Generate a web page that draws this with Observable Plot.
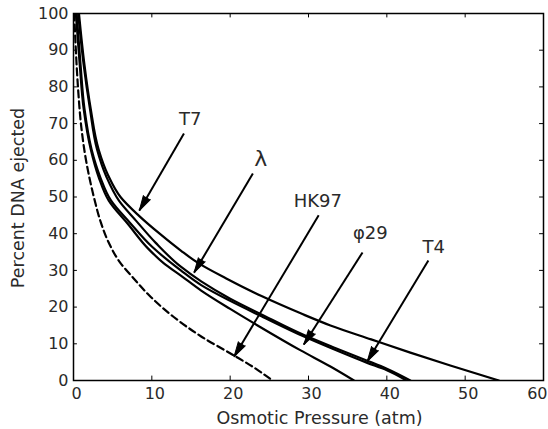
<!DOCTYPE html>
<html>
<head>
<meta charset="utf-8">
<script src="https://cdn.jsdelivr.net/npm/d3@7"></script>
<script src="https://cdn.jsdelivr.net/npm/@observablehq/plot@0.6"></script>
<style>
  html, body { margin: 0; padding: 0; background: white; }
</style>
</head>
<body>
<div id="chart"></div>
<script>
// ---- data ----
const xTicks = [0, 10, 20, 30, 40, 50, 60];
const yTicks = [0, 10, 20, 30, 40, 50, 60, 70, 80, 90, 100];

// solid curves ([osmotic pressure, percent ejected])
const curveTop = [[0.7,100],[1.4,86],[2.2,74],[3.2,63],[4.4,56],[6,50],[8.3,45],[11,40],[13.7,35.4],[16,31.9],[19.5,27.8],[24,23],[29,18.3],[32.8,15],[38,11.2],[43,7.6],[48.1,4.1],[54.3,0]];
const curveMid1 = [[0.6,100],[1.3,86],[2.1,74],[3.0,63],[4.2,55.5],[5.8,49],[8.0,43.5],[10.5,37.5],[13.7,31],[16.3,27],[20,22.3],[24,18],[29.5,12.3],[33,9.2],[37.5,5.4],[40,3.2],[43,0]];
const curveMid2 = [[0.4,100],[0.9,86],[1.4,74],[2.3,63],[3.4,55.5],[4.8,49],[7.2,43],[10,36.5],[13.7,30],[16.3,26],[20,21.7],[24,17.5],[29.5,11.9],[33,8.7],[37.5,4.8],[40,2.8],[42.5,0]];
const curveLow = [[0.3,100],[0.8,86],[1.3,74],[2.2,63],[3.2,55.5],[4.5,49],[7.0,42.5],[9.5,36],[11.5,32],[13.7,28.6],[16.3,24.5],[20,19.5],[23.5,15],[29,8.2],[32.8,3.8],[35.8,0]];
// dashed curve
const curveDashed = [[0.1,100],[0.3,90],[0.6,79],[1.0,69],[1.6,60],[2.6,50],[3.5,43],[4.4,38],[6,32],[7.6,28],[9.9,22.7],[12.8,17.3],[16.3,12],[20.5,6.8],[23,3.6],[25.4,0]];

// annotations
const labelNames = ["T7", "λ", "HK97", "φ29", "T4"];
const labelX = [14.9, 23.9, 31.2, 37.9, 46.0];
const labelY = [71.1, 60.5, 48.8, 40.0, 36.2];
const labelSize = [18, 22, 18, 18, 18];
const tailX = [14.1, 22.9, 31.3, 36.9, 45.3];
const tailY = [67.3, 56.4, 45.0, 34.9, 32.7];
const tipX = [8.4, 15.4, 20.5, 29.4, 37.5];
const tipY = [46.3, 29.4, 6.5, 9.8, 5.2];

// ---- layout ----
const W = 548, H = 429;
const mL = 73, mR = 5, mT = 13, mB = 49;
const kx = (W - mL - mR) / 60, ky = (H - mT - mB) / 100;

const solid = [
  ...curveTop.map(([x, y]) => ({x, y, s: "top"})),
  ...curveMid1.map(([x, y]) => ({x, y, s: "mid1"})),
  ...curveMid2.map(([x, y]) => ({x, y, s: "mid2"})),
  ...curveLow.map(([x, y]) => ({x, y, s: "low"}))
];
const dashed = curveDashed.map(([x, y]) => ({x, y}));

const arrows = labelNames.map((name, i) => ({
  name, lx: labelX[i], ly: labelY[i], size: labelSize[i],
  x1: tailX[i], y1: tailY[i], x2: tipX[i], y2: tipY[i],
  rot: Math.atan2((tipX[i] - tailX[i]) * kx, (tipY[i] - tailY[i]) * ky) * 180 / Math.PI
}));

const xInner = xTicks.slice(0, -1);
const xLast = xTicks.slice(-1);
const textColor = "#2a2a2a";

const chart = Plot.plot({
  width: W, height: H,
  marginLeft: mL, marginRight: mR, marginTop: mT, marginBottom: mB,
  style: {fontFamily: "DejaVu Sans", fontSize: "16px", color: textColor, background: "white"},
  x: {domain: [0, 60], axis: null},
  y: {domain: [0, 100], ticks: yTicks, tickSize: 0, tickPadding: 5, label: null},
  marks: [
    Plot.frame({stroke: "black", strokeWidth: 1.5}),
    // inward ticks
    Plot.ruleX(xTicks, {x: d => d, y1: 0, y2: 1.2, stroke: "black"}),
    Plot.ruleX(xTicks, {x: d => d, y1: 98.8, y2: 100, stroke: "black"}),
    Plot.ruleY(yTicks, {y: d => d, x1: 0, x2: 0.5, stroke: "black"}),
    Plot.ruleY(yTicks, {y: d => d, x1: 59.5, x2: 60, stroke: "black"}),
    // x tick labels
    Plot.text(xInner, {x: d => d, frameAnchor: "bottom", dy: 13, dx: 3, fontSize: 16, fill: textColor, lineAnchor: "middle"}),
    Plot.text(xLast, {x: d => d, frameAnchor: "bottom", dy: 13, dx: 4, textAnchor: "end", fontSize: 16, fill: textColor, lineAnchor: "middle"}),
    // curves
    Plot.line(solid, {x: "x", y: "y", z: "s", stroke: "black", strokeWidth: 2.2, curve: "monotone-y", clip: true}),
    Plot.line(dashed, {x: "x", y: "y", stroke: "black", strokeWidth: 2.2, strokeDasharray: "7,4", curve: "monotone-y", clip: true}),
    // arrows
    Plot.link(arrows, {x1: "x1", y1: "y1", x2: "x2", y2: "y2", stroke: "black", strokeWidth: 2}),
    Plot.vector(arrows, {x: "x2", y: "y2", rotate: "rot", length: 15, r: 4, shape: "spike", anchor: "end", fill: "black", stroke: "black", strokeWidth: 1}),
    Plot.text(arrows, {x: "lx", y: "ly", text: "name", fontSize: "size", fill: textColor, textAnchor: "middle", lineAnchor: "middle"}),
    // axis titles
    Plot.text(["Osmotic Pressure (atm)"], {frameAnchor: "bottom", dy: 38, dx: 11, fontSize: 17.5, fill: textColor, textAnchor: "middle", lineAnchor: "middle"}),
    Plot.text(["Percent DNA ejected"], {frameAnchor: "left", dx: -55, dy: 1, rotate: -90, fontSize: 17.5, fill: textColor, textAnchor: "middle", lineAnchor: "middle"})
  ]
});
document.getElementById("chart").appendChild(chart);
</script>
</body>
</html>
